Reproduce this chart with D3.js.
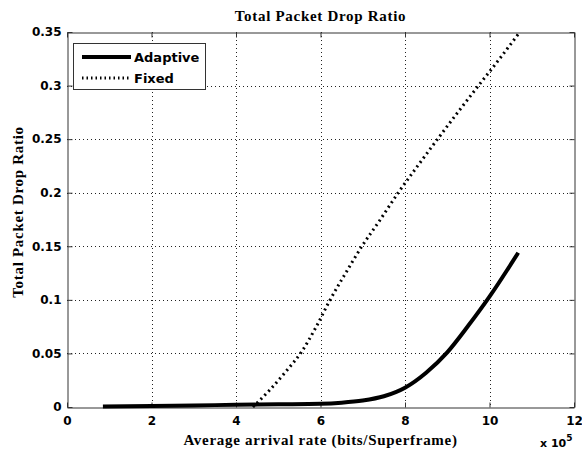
<!DOCTYPE html>
<html>
<head>
<meta charset="utf-8">
<script src="https://cdn.jsdelivr.net/npm/d3@7"></script>
<style>
  body { margin: 0; background: #fff; }
  svg { display: block; }
  .tick text { font-family: "DejaVu Sans", Arial, sans-serif; font-weight: bold; font-size: 12px; fill: #000; }
  .lbl { font-family: "Liberation Serif", "Times New Roman", serif; font-weight: bold; font-size: 15px; letter-spacing: 0.7px; fill: #000; }
</style>
</head>
<body>
<div id="main"></div>
<script>
// data (x in units of 10^5 bits/Superframe)
const adaptiveX = [0.85, 2, 3, 4, 5, 6, 6.5, 7, 7.5, 8, 8.5, 9, 9.5, 10, 10.68]
const adaptiveY = [0.0005, 0.001, 0.0015, 0.002, 0.0025, 0.003, 0.004, 0.006, 0.010, 0.018, 0.032, 0.051, 0.076, 0.103, 0.144]

const fixedX = [4.4, 4.8, 5.2, 5.56, 5.9, 6.2, 6.55, 6.98, 7.4, 7.84, 8.3, 8.77, 9.25, 9.72, 10.2, 10.68]
const fixedY = [0.0, 0.016, 0.034, 0.052, 0.075, 0.098, 0.122, 0.15, 0.174, 0.2, 0.225, 0.25, 0.275, 0.299, 0.323, 0.348]

const xTicks = [0, 2, 4, 6, 8, 10, 12]
const yTicks = [0, 0.05, 0.1, 0.15, 0.2, 0.25, 0.3, 0.35]
const seriesNames = ['Adaptive', 'Fixed']

const w = 582, h = 451
const padL = 67, padR = 574, padT = 32, padB = 407   // plot box edges

const svg = d3.select('#main').append('svg')
    .attr('width', w)
    .attr('height', h)

const xScale = d3.scaleLinear().domain([0, 12]).range([padL, padR])
const yScale = d3.scaleLinear().domain([0, 0.35]).range([padB, padT])

// grid //
svg.append('g')
    .selectAll('line')
    .data(xTicks.slice(1, -1))
    .enter()
    .append('line')
    .attr('x1', d => Math.round(xScale(d)) + 0.5)
    .attr('x2', d => Math.round(xScale(d)) + 0.5)
    .attr('y1', padT)
    .attr('y2', padB)
    .attr('stroke', '#222')
    .attr('stroke-width', 1)
    .attr('stroke-dasharray', '1,3')

svg.append('g')
    .selectAll('line')
    .data(yTicks.slice(1, -1))
    .enter()
    .append('line')
    .attr('y1', d => Math.round(yScale(d)) + 0.5)
    .attr('y2', d => Math.round(yScale(d)) + 0.5)
    .attr('x1', padL)
    .attr('x2', padR)
    .attr('stroke', '#222')
    .attr('stroke-width', 1)
    .attr('stroke-dasharray', '1,3')

// axes //
const xAxis = d3.axisBottom(xScale)
    .tickValues(xTicks)
    .tickFormat(d3.format('d'))
    .tickSizeInner(-5)
    .tickSizeOuter(0)
    .tickPadding(9)

svg.append('g')
    .attr('transform', 'translate(0,' + (padB + 0.5) + ')')
    .call(xAxis)

const yAxis = d3.axisLeft(yScale)
    .tickValues(yTicks)
    .tickFormat(d => d === 0 ? '0' : String(d))
    .tickSizeInner(-5)
    .tickSizeOuter(0)
    .tickPadding(6)

svg.append('g')
    .attr('transform', 'translate(' + (padL + 0.5) + ',0)')
    .call(yAxis)

// top and right ticks
svg.append('g')
    .attr('transform', 'translate(0,' + (padT + 0.5) + ')')
    .call(d3.axisTop(xScale).tickValues(xTicks).tickSizeInner(-5).tickSizeOuter(0).tickFormat(''))

svg.append('g')
    .attr('transform', 'translate(' + (padR + 0.5) + ',0)')
    .call(d3.axisRight(yScale).tickValues(yTicks).tickSizeInner(-5).tickSizeOuter(0).tickFormat(''))

svg.selectAll('.domain, .tick line').attr('stroke', '#333')

// lines //
const line = d3.line()
    .x(d => xScale(d[0]))
    .y(d => yScale(d[1]))
    .curve(d3.curveMonotoneX)

svg.append('path')
    .datum(adaptiveX.map((x, i) => [x, adaptiveY[i]]))
    .attr('d', line)
    .attr('fill', 'none')
    .attr('stroke', '#000')
    .attr('stroke-width', 4)

svg.append('path')
    .datum(fixedX.map((x, i) => [x, fixedY[i]]))
    .attr('d', line)
    .attr('fill', 'none')
    .attr('stroke', '#000')
    .attr('stroke-width', 3)
    .attr('stroke-dasharray', '2,3.5')

// legend //
const legend = svg.append('g')

legend.append('rect')
    .attr('x', 73.5)
    .attr('y', 43.5)
    .attr('width', 132)
    .attr('height', 46)
    .attr('fill', '#fff')
    .attr('stroke', '#333')

legend.selectAll('line')
    .data(seriesNames)
    .enter()
    .append('line')
    .attr('x1', 82)
    .attr('x2', 131)
    .attr('y1', (d, i) => 57 + i * 21)
    .attr('y2', (d, i) => 57 + i * 21)
    .attr('stroke', '#000')
    .attr('stroke-width', (d, i) => i === 0 ? 4 : 3)
    .attr('stroke-dasharray', (d, i) => i === 0 ? null : '1.5,3')

legend.selectAll('text')
    .data(seriesNames)
    .enter()
    .append('text')
    .attr('x', 134)
    .attr('y', (d, i) => 62 + i * 21)
    .style('font-family', '"DejaVu Sans", Arial, sans-serif')
    .style('font-weight', 'bold')
    .style('font-size', '13px')
    .text(d => d)

// labels //
svg.append('text')
    .attr('class', 'lbl')
    .attr('x', (padL + padR) / 2)
    .attr('y', 21)
    .attr('text-anchor', 'middle')
    .text('Total Packet Drop Ratio')

svg.append('text')
    .attr('class', 'lbl')
    .attr('x', (padL + padR) / 2)
    .attr('y', 445)
    .attr('text-anchor', 'middle')
    .text('Average arrival rate (bits/Superframe)')

svg.append('text')
    .attr('class', 'lbl')
    .attr('transform', 'translate(23,' + 212 + ') rotate(-90)')
    .attr('text-anchor', 'middle')
    .text('Total Packet Drop Ratio')

const mult = svg.append('text')
    .attr('x', 540)
    .attr('y', 447)
    .style('font-family', '"DejaVu Sans", Arial, sans-serif')
    .style('font-weight', 'bold')
    .style('font-size', '11px')

mult.append('tspan').text('x 10')
mult.append('tspan').attr('dy', -6).style('font-size', '9px').text('5')
</script>
</body>
</html>
